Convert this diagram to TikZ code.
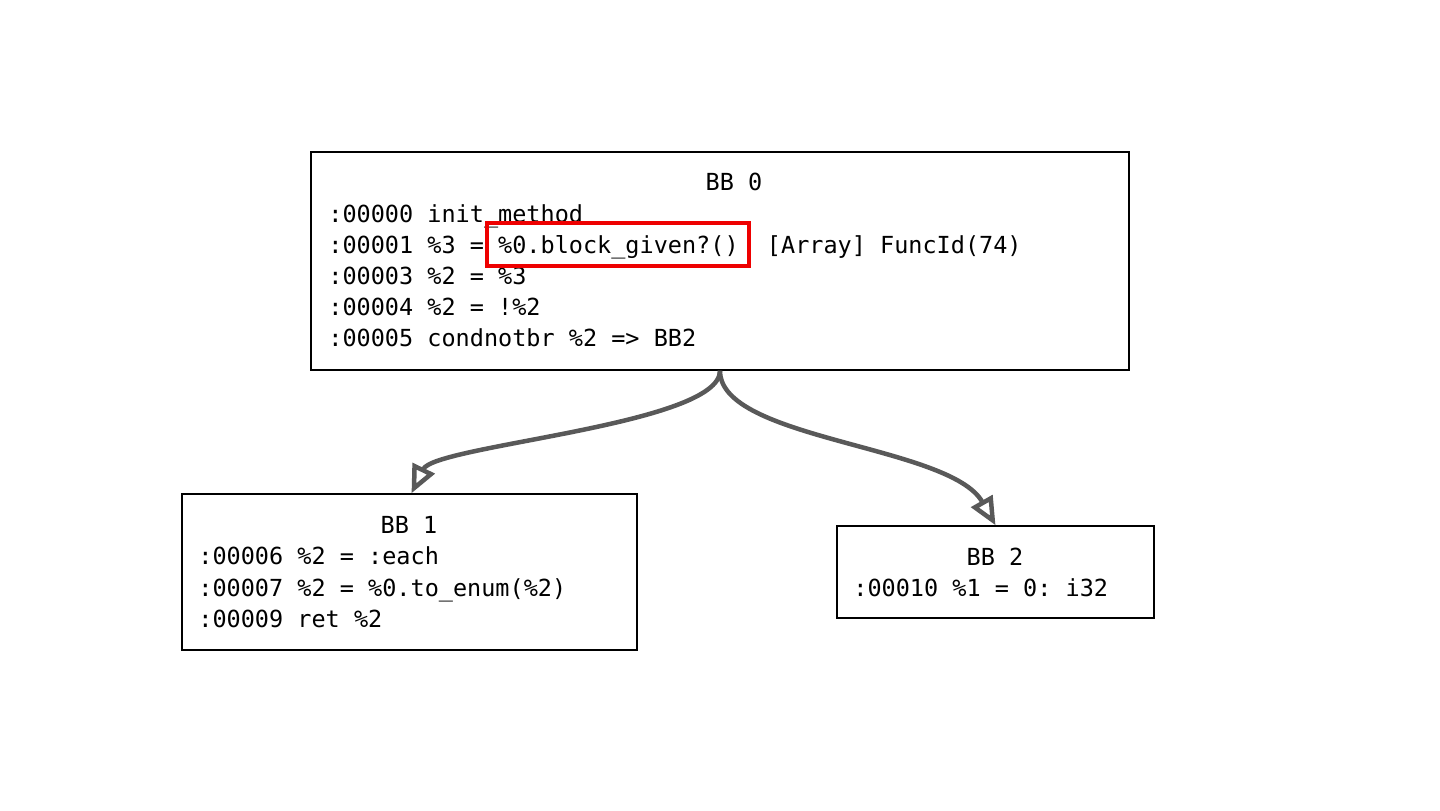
\documentclass[tikz,border=0pt]{standalone}
\usepackage{fontspec}
\setmonofont{DejaVu Sans Mono}
\usetikzlibrary{arrows.meta}
\definecolor{edgegray}{HTML}{595959}
\definecolor{hlred}{HTML}{EE0000}
\begin{document}
\begin{tikzpicture}[x=0.5pt,y=-0.5pt,
  bbox/.style={draw=black, line width=0.75pt, inner sep=0pt, fill=none},
  code/.style={anchor=base west, inner sep=0pt, font=\fontsize{11.75pt}{14pt}\ttfamily},
  title/.style={anchor=base, inner sep=0pt, font=\fontsize{11.75pt}{14pt}\ttfamily},
  hlbox/.style={draw=hlred, line width=2pt, inner sep=0pt},
  edge/.style={draw=edgegray, line width=2.25pt, -{Triangle[open, length=14pt, width=12pt]}}]
\useasboundingbox (0,0) rectangle (1440,810);
\fill[white] (0,0) rectangle (1440,810);
% boxes
\node[bbox, minimum width=409pt, minimum height=109pt] (bb0) at (720,261) {};
\node[bbox, minimum width=227.5pt, minimum height=78pt] (bb1) at (409.5,572) {};
\node[bbox, minimum width=158.5pt, minimum height=46pt] (bb2) at (995.5,572) {};
% BB0 text
\node[title] (t0) at (734,190.5) {BB 0};
\node[code] (l00) at (328,222.5) {:00000 init\_method};
\node[code] (l01) at (328,253.5) {:00001 \%3 = \%0.block\_given?()\ \ [Array] FuncId(74)};
\node[code] (l02) at (328,284.5) {:00003 \%2 = \%3};
\node[code] (l03) at (328,315.5) {:00004 \%2 = !\%2};
\node[code] (l04) at (328,346.5) {:00005 condnotbr \%2 => BB2};
% highlight
\node[hlbox, minimum width=131pt, minimum height=21.5pt] (hl) at (618,244.5) {};
% BB1 text
\node[title] (t1) at (409,533.5) {BB 1};
\node[code] (l10) at (198,564.5) {:00006 \%2 = :each};
\node[code] (l11) at (198,596) {:00007 \%2 = \%0.to\_enum(\%2)};
\node[code] (l12) at (198,627.5) {:00009 ret \%2};
% BB2 text
\node[title] (t2) at (995,565.5) {BB 2};
\node[code] (l20) at (853,596.5) {:00010 \%1 = 0: i32};
% edges
\draw[edge] (bb0.south) .. controls (720,425) and (435,445) .. ([xshift=1pt]bb1.north);
\draw[edge] (bb0.south) .. controls (720,440) and (950,445) .. (bb2.north);
\end{tikzpicture}
\end{document}
